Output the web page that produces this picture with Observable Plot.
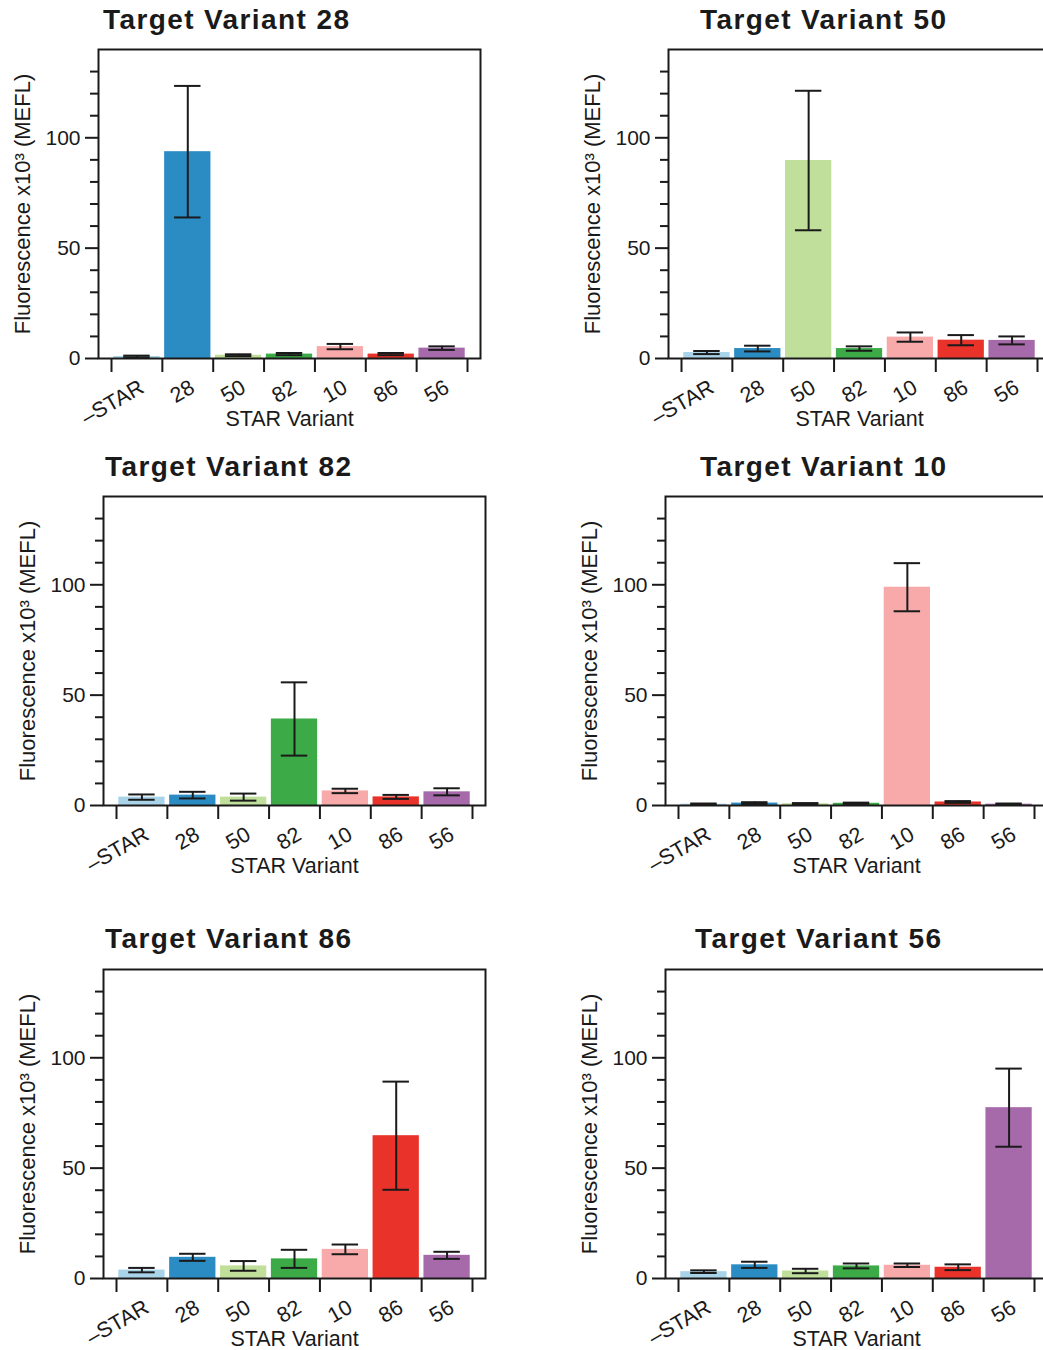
<!DOCTYPE html>
<html><head><meta charset="utf-8">
<script src="https://cdn.jsdelivr.net/npm/d3@7"></script>
<script src="https://cdn.jsdelivr.net/npm/@observablehq/plot@0.6"></script>
<style>
body{margin:0;background:#fff;overflow:hidden}
#page{position:relative;width:1043px;height:1350px;overflow:hidden;font-family:"Liberation Sans",Arial,sans-serif;color:#1a1a1a}
.title{position:absolute;font-weight:bold;font-size:28px;letter-spacing:1.4px;white-space:nowrap;line-height:1}
.panel{position:absolute}
.panel svg{max-width:none !important}
</style></head><body><div id="page"></div>
<script>
// ---- data ----
const categories = ["–STAR", "28", "50", "82", "10", "86", "56"];
const barColors = ["#a9d3e8", "#2b8bc3", "#bfdf9b", "#3cab47", "#f8aaaa", "#e9322a", "#a66aab"];
const targets = ["28", "50", "82", "10", "86", "56"];

const meanT28 = [0.9, 93.7, 1.5, 2.0, 5.4, 2.0, 4.7];
const errT28  = [0.4, 29.8, 0.4, 0.5, 1.2, 0.5, 0.8];
const meanT50 = [2.7, 4.5, 89.7, 4.5, 9.7, 8.3, 8.2];
const errT50  = [0.7, 1.3, 31.6, 1.0, 2.1, 2.3, 1.8];
const meanT82 = [3.8, 4.7, 3.8, 39.2, 6.6, 3.9, 6.2];
const errT82  = [1.2, 1.5, 1.6, 16.6, 1.0, 0.9, 1.6];
const meanT10 = [0.6, 1.1, 0.8, 1.0, 98.9, 1.6, 0.6];
const errT10  = [0.3, 0.4, 0.3, 0.3, 10.9, 0.4, 0.3];
const meanT86 = [3.8, 9.6, 5.7, 8.9, 13.2, 64.7, 10.5];
const errT86  = [1.0, 1.6, 2.2, 4.1, 2.2, 24.5, 1.6];
const meanT56 = [3.1, 6.2, 3.4, 5.7, 6.0, 5.1, 77.4];
const errT56  = [0.6, 1.4, 1.0, 1.1, 0.8, 1.3, 17.7];

const yMajorTicks = [0, 50, 100];
const yMinorTicks = [10, 20, 30, 40, 60, 70, 80, 90, 110, 120, 130];
const xBoundaryTicks = [0, 1, 2, 3, 4, 5, 6, 7];
const yLabel = "Fluorescence x10³ (MEFL)";
const xLabel = "STAR Variant";

const panelMeans = [meanT28, meanT50, meanT82, meanT10, meanT86, meanT56];
const panelErrs  = [errT28, errT50, errT82, errT10, errT86, errT56];

// ---- layout ----
const frames = [
  {left: 98, top: 49, titleX: 103, titleBase: 30},
  {left: 668, top: 49, titleX: 700, titleBase: 30},
  {left: 103, top: 496, titleX: 105, titleBase: 477},
  {left: 665, top: 496, titleX: 700, titleBase: 477},
  {left: 103, top: 969, titleX: 105, titleBase: 949},
  {left: 665, top: 969, titleX: 695, titleBase: 949}
];
const ML = 100, MR = 10, MT = 12, MB = 80, FW = 382, FH = 309;
const ink = "#1a1a1a";
const page = document.getElementById("page");

targets.forEach((t, p) => {
  const rows = categories.map((c, i) => ({cat: c, i, mean: panelMeans[p][i], err: panelErrs[p][i]}));
  const f = frames[p];
  const W = ML + FW + MR, H = MT + FH + MB;
  const chart = Plot.plot({
    width: W, height: H,
    marginLeft: ML, marginRight: MR, marginTop: MT, marginBottom: MB,
    style: {fontFamily: "'Liberation Sans', Arial, sans-serif", fontSize: "21px", color: ink, background: "transparent", overflow: "visible", maxWidth: "none"},
    x: {domain: [0, 7], insetLeft: 13, insetRight: 13, axis: null},
    y: {domain: [0, 140], axis: null, label: null},
    color: {domain: categories, range: barColors},
    marks: [
      Plot.rectY(rows, {x1: d => d.i + 0.045, x2: d => d.i + 0.955, y1: 0, y2: "mean", fill: "cat"}),
      Plot.ruleX(rows, {x: d => d.i + 0.5, y1: d => d.mean - d.err, y2: d => d.mean + d.err, stroke: ink, strokeWidth: 2}),
      Plot.ruleY(rows, {x1: d => d.i + 0.24, x2: d => d.i + 0.76, y: d => d.mean - d.err, stroke: ink, strokeWidth: 2}),
      Plot.ruleY(rows, {x1: d => d.i + 0.24, x2: d => d.i + 0.76, y: d => d.mean + d.err, stroke: ink, strokeWidth: 2}),
      Plot.frame({stroke: ink, strokeWidth: 2}),
      Plot.axisY({ticks: yMajorTicks, tickSize: 13, tickPadding: 5, stroke: ink, strokeWidth: 2, fill: ink, fontSize: 21, label: null}),
      Plot.axisY({ticks: yMinorTicks, tickSize: 8, tickFormat: () => "", stroke: ink, strokeWidth: 2, label: null}),
      Plot.axisX({ticks: xBoundaryTicks, tickSize: 14, tickFormat: () => "", stroke: ink, strokeWidth: 2, label: null}),
      Plot.text(rows, {x: d => d.i + 0.5, text: "cat", frameAnchor: "bottom", rotate: -30, textAnchor: "end", lineAnchor: "middle", dx: 5, dy: 27, fontSize: 21.5, fill: ink}),
      Plot.text([xLabel], {frameAnchor: "bottom", textAnchor: "middle", lineAnchor: "middle", dy: 61, fontSize: 21.5, fill: ink}),
      Plot.text([yLabel], {frameAnchor: "left", rotate: -90, textAnchor: "middle", lineAnchor: "middle", dx: -76, fontSize: 22, fill: ink})
    ]
  });
  const holder = document.createElement("div");
  holder.className = "panel";
  holder.style.left = (f.left - ML) + "px";
  holder.style.top = (f.top - MT) + "px";
  holder.style.width = W + "px";
  holder.style.height = H + "px";
  holder.appendChild(chart);
  page.appendChild(holder);

  const title = document.createElement("div");
  title.className = "title";
  title.textContent = "Target Variant " + t;
  title.style.left = f.titleX + "px";
  title.style.top = (f.titleBase - 23.7) + "px";
  page.appendChild(title);
});
</script></body></html>
